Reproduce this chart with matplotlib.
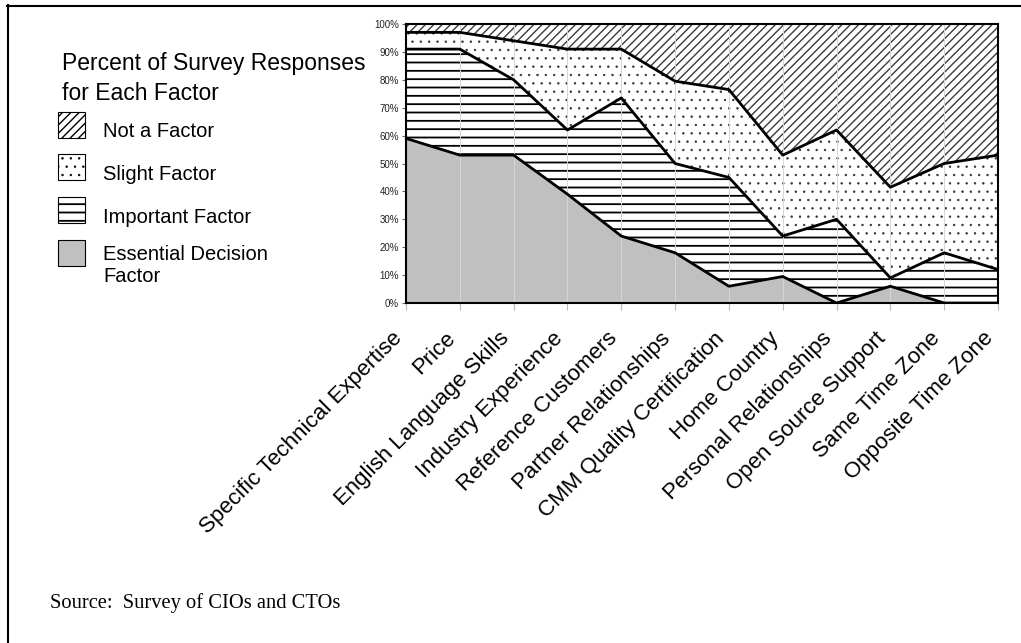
import numpy as np
import matplotlib.pyplot as plt
from matplotlib.patches import Rectangle
from matplotlib.lines import Line2D

# Anteile der Antworten je Faktor (in %), von unten nach oben gestapelt
factors = ['Specific Technical Expertise', 'Price', 'English Language Skills',
           'Industry Experience', 'Reference Customers', 'Partner Relationships',
           'CMM Quality Certification', 'Home Country', 'Personal Relationships',
           'Open Source Support', 'Same Time Zone', 'Opposite Time Zone']
essential = [59, 53, 53, 39, 24, 18, 6, 9.5, 0, 6, 0, 0]
important = [32, 38, 27, 23, 49.5, 32, 39, 14.5, 30, 3, 18, 12]
slight = [6, 6, 14, 29, 17.5, 29.5, 31.5, 29, 32, 32.5, 32, 41]
not_factor = [3, 3, 6, 9, 9, 20.5, 23.5, 47, 38, 58.5, 50, 47]

labels = ['Essential Decision\nFactor', 'Important Factor', 'Slight Factor', 'Not a Factor']
fills = ['#c0c0c0', 'white', 'white', 'white']
hatches = [None, '--', '..', '////']
hatch_colors = ['#c0c0c0', 'black', '#333333', '#3a3a3a']
hatch_widths = [1.0, 1.3, 0.5, 1.0]

plt.rcParams['font.family'] = ['Liberation Sans', 'DejaVu Sans']

W, H = 1021, 643
fig = plt.figure(figsize=(W / 100, H / 100), dpi=100)


def fx(px):
    return px / W


def fy(py):
    return 1 - py / H


ax = fig.add_axes([fx(406), fy(303), fx(998) - fx(406), fy(24) - fy(303)])

x = np.arange(len(factors))
layers = [essential, important, slight, not_factor]
bottom = np.zeros(len(x))
tops = []
for vals, fc, h, hc, hw in zip(layers, fills, hatches, hatch_colors, hatch_widths):
    top = bottom + np.array(vals, dtype=float)
    with plt.rc_context({'hatch.linewidth': hw}):
        ax.fill_between(x, bottom, top, facecolor=fc, hatch=h,
                        edgecolor=hc, linewidth=0, zorder=1)
    tops.append(top)
    bottom = top

# Grenzlinien zwischen den Schichten
for top in tops[:3]:
    ax.plot(x, top, color='black', lw=2.0, zorder=3)

ax.set_xlim(0, len(x) - 1)
ax.set_ylim(0, 100)
ax.set_yticks(range(0, 101, 10))
ax.set_yticklabels([f'{v}%' for v in range(0, 101, 10)])
ax.set_xticks(x)
ax.set_xticklabels(factors, rotation=45, ha='right', fontsize=16)
ax.tick_params(axis='y', labelsize=7, length=3, color='#666666', labelcolor='#222222', pad=2)
ax.tick_params(axis='x', length=5, color='#bbbbbb', pad=13)
ax.grid(axis='x', color='#d6d6d6', lw=0.7)
for s in ax.spines.values():
    s.set_linewidth(1.5)
    s.set_zorder(4)

# Legende links
fig.text(fx(62), fy(70), 'Percent of Survey Responses', fontsize=16.5, va='baseline')
fig.text(fx(62), fy(100), 'for Each Factor', fontsize=16.5, va='baseline')

legend_rows = [(3, 112, 137), (2, 154, 180), (1, 197, 223), (0, 240, 260)]
for i, top_px, base_px in legend_rows:
    with plt.rc_context({'hatch.linewidth': hatch_widths[i]}):
        rect = Rectangle((fx(58), fy(top_px + 26)), fx(85) - fx(58), fy(top_px) - fy(top_px + 26),
                         transform=fig.transFigure, facecolor=fills[i], hatch=hatches[i],
                         edgecolor='black', linewidth=0.8)
        fig.add_artist(rect)
    for k, line in enumerate(labels[i].split('\n')):
        fig.text(fx(103), fy(base_px + 22.5 * k), line, fontsize=14.5, va='baseline')

fig.text(fx(50), fy(608), 'Source:  Survey of CIOs and CTOs', fontsize=14.8,
         family='Liberation Serif', va='baseline')

# Rahmen oben und links
fig.add_artist(Line2D([fx(7), 1], [fy(5.5), fy(5.5)], transform=fig.transFigure, color='black', lw=1.5))
fig.add_artist(Line2D([fx(7.5), fx(7.5)], [fy(5), 0], transform=fig.transFigure, color='black', lw=1.5))

fig.savefig('out.png', dpi=100)
